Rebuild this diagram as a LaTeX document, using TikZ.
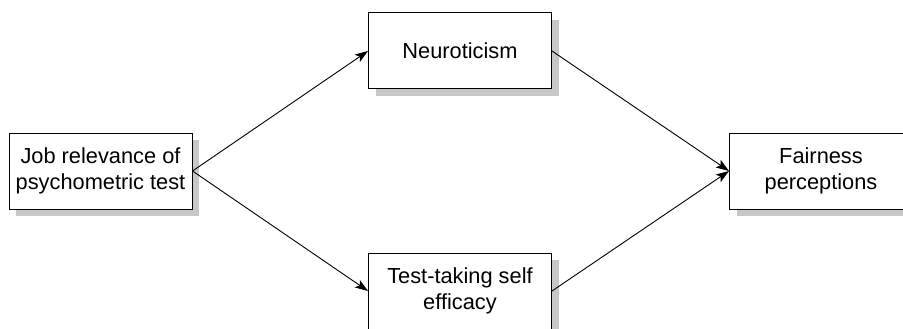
\documentclass[tikz,border=0pt]{standalone}
\usepackage{fontspec}
\setmainfont{Liberation Sans}
\usepackage{tikz}
\usetikzlibrary{arrows.meta,positioning,shadows}

\begin{document}
\begin{tikzpicture}[x=1pt,y=-1pt,
  var/.style={draw, line width=1pt, fill=white, minimum width=183pt, minimum height=76pt,
    align=center, font=\fontsize{21.8}{25.5}\selectfont, inner sep=0pt,
    drop shadow={shadow xshift=7pt, shadow yshift=-7pt, fill=black!22, opacity=1}},
  path/.style={-{Stealth[length=13pt,width=9pt,inset=3pt]}, line width=0.9pt}]
% Page frame
\clip (0,0) rectangle (903,329);
% Variables
\node[var] (job) at (100.5,171) {Job relevance of\\psychometric test};
\node[var] (neuro) at (460,51) {Neuroticism};
\node[var] (tse) at (460,291) {Test-taking self\\efficacy};
\node[var] (fair) at (821,171) {Fairness\\perceptions};
% Paths
\draw[path] (job.east) -- (neuro.west);
\draw[path] (job.east) -- (tse.west);
\draw[path] (neuro.east) -- (fair.west);
\draw[path] (tse.east) -- (fair.west);
\end{tikzpicture}
\end{document}
